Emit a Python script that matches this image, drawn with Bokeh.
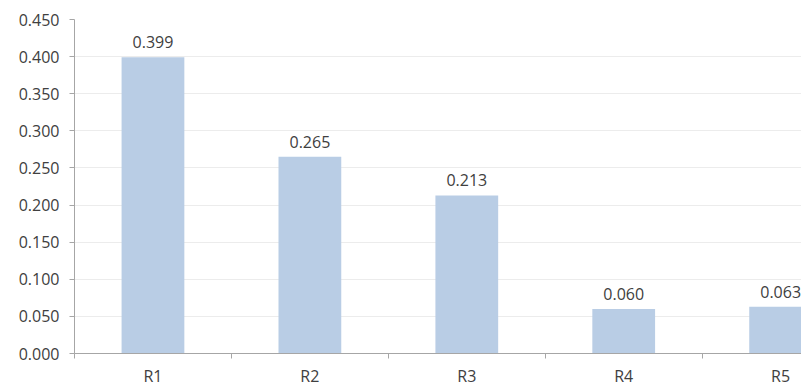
from bokeh.plotting import figure
from bokeh.models import ColumnDataSource, Range1d, FixedTicker
from bokeh.core.properties import value
from bokeh.embed import file_html
from bokeh.resources import INLINE

# Values per region
categories = ["R1", "R2", "R3", "R4", "R5"]
values = [0.399, 0.265, 0.213, 0.060, 0.063]
y_ticks = [0.0, 0.05, 0.10, 0.15, 0.20, 0.25, 0.30, 0.35, 0.40, 0.45]

FONT = "Open Sans"
TEXT_COLOR = "#404040"
SIZE = "16px"

centers = [i + 0.5 for i in range(len(categories))]
labels = ["%.3f" % v for v in values]
source = ColumnDataSource(data=dict(x=centers, top=values, label=labels, cat=categories))

p = figure(width=801, height=389, output_backend="svg", toolbar_location=None,
           x_range=Range1d(0, 4.633), y_range=Range1d(0, 0.45),
           min_border_left=74, min_border_right=0, min_border_top=19,
           min_border_bottom=35)
p.outline_line_color = None
p.background_fill_color = "white"
p.border_fill_color = "white"

p.vbar(x="x", top="top", width=0.40, source=source,
       fill_color="#b9cde5", line_color=None)

p.text(x="x", y="top", text="label", source=source,
       text_font=value(FONT), text_font_size=SIZE, text_color=TEXT_COLOR,
       text_align="center", text_baseline="bottom", y_offset=-9)

# y axis
p.yaxis.ticker = FixedTicker(ticks=y_ticks)
p.yaxis.major_label_overrides = {t: "%.3f" % t for t in y_ticks}
p.yaxis.major_label_text_font = FONT
p.yaxis.major_label_text_font_size = SIZE
p.yaxis.major_label_text_color = TEXT_COLOR
p.yaxis.axis_line_color = "#a6a6a6"
p.yaxis.major_tick_line_color = "#a6a6a6"
p.yaxis.major_tick_out = 5
p.yaxis.major_tick_in = 0
p.yaxis.minor_tick_line_color = None
p.yaxis.major_label_standoff = 10

# x axis: labels at band centres, tick marks at band boundaries
p.xaxis.ticker = FixedTicker(ticks=centers, minor_ticks=[0, 1, 2, 3, 4])
p.xaxis.major_label_overrides = {c: cat for c, cat in zip(centers, categories)}
p.xaxis.major_label_text_font = FONT
p.xaxis.major_label_text_font_size = SIZE
p.xaxis.major_label_text_color = TEXT_COLOR
p.xaxis.axis_line_color = "#a6a6a6"
p.xaxis.major_tick_line_color = None
p.xaxis.major_tick_out = 0
p.xaxis.major_tick_in = 0
p.xaxis.minor_tick_line_color = "#a6a6a6"
p.xaxis.minor_tick_out = 5
p.xaxis.minor_tick_in = 0
p.xaxis.major_label_standoff = 6

p.xgrid.grid_line_color = None
p.ygrid.grid_line_color = "#ececec"

open("out.html", "w").write(file_html(p, INLINE))
